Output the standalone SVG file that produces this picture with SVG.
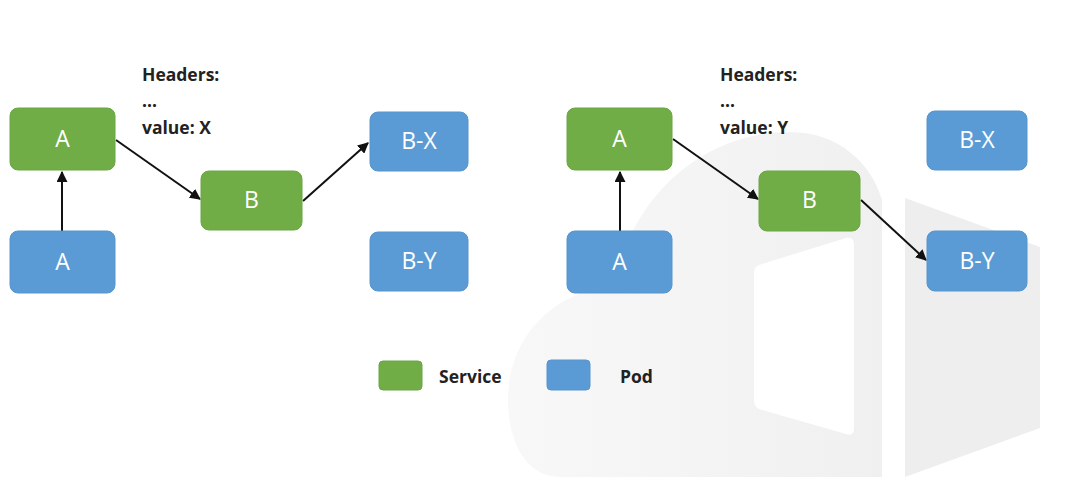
<svg xmlns="http://www.w3.org/2000/svg" width="1091" height="502" viewBox="0 0 1091 502">
<defs>
<linearGradient id="cg" x1="0" y1="0" x2="1" y2="0">
<stop offset="0" stop-color="#f8f8f8"/>
<stop offset="1" stop-color="#f0f0f0"/>
</linearGradient>
<marker id="ah" viewBox="0 0 10 10" refX="9" refY="5" markerWidth="5.5" markerHeight="5.5" orient="auto" markerUnits="strokeWidth">
<path d="M0,0 L10,5 L0,10 Z" fill="#111"/>
</marker>
</defs>
<style>
.svc{fill:#70ad47;stroke:#6aa542;stroke-width:1}
.pod{fill:#5b9bd5;stroke:#5694cc;stroke-width:1}
.lbl{font-family:"Open Sans","Noto Sans",sans-serif;font-size:23px;fill:#fff;text-anchor:middle}
.hdr{font-family:"Open Sans","Noto Sans",sans-serif;font-size:17.5px;font-weight:bold;fill:#222}
.edge{stroke:#111;stroke-width:2;fill:none;marker-end:url(#ah)}
</style>
<rect width="1091" height="502" fill="#fff"/>
<g id="watermark">
<path d="M560 477 C525 477 508 440 508 400 C508 340 550 292 615 285 C630 200 700 132 790 132 C840 132 872 165 882 200 L882 477 Z" fill="url(#cg)"/>
<path d="M762 264 L846 238 Q854 236 854 245 L854 428 Q854 437 846 434 L762 410 Q754 408 754 400 L754 272 Q754 266 762 264 Z" fill="#fff"/>
<path d="M905 198 L1040 247 L1040 428 L905 477 Z" fill="#eeeeee"/>
</g>
<g id="headers-left">
<text class="hdr" x="142" y="81">Headers:</text>
<text class="hdr" x="142" y="107">...</text>
<text class="hdr" x="142" y="134">value: X</text>
</g>
<g id="headers-right">
<text class="hdr" x="720" y="81">Headers:</text>
<text class="hdr" x="720" y="107">...</text>
<text class="hdr" x="720" y="134">value: Y</text>
</g>
<g id="connectors">
<line class="edge" x1="62" y1="231" x2="62" y2="172"/>
<line class="edge" x1="116" y1="140" x2="200" y2="199"/>
<line class="edge" x1="303" y1="201" x2="368" y2="143"/>
<line class="edge" x1="620" y1="231" x2="620" y2="172"/>
<line class="edge" x1="673" y1="139" x2="758" y2="199"/>
<line class="edge" x1="861" y1="200" x2="926" y2="260"/>
</g>
<g id="left-svc-A"><rect class="svc" x="10" y="108" width="105" height="62" rx="8"/><text class="lbl" x="62.5" y="147">A</text></g>
<g id="left-pod-A"><rect class="pod" x="10" y="231" width="105" height="62" rx="8"/><text class="lbl" x="62.5" y="270">A</text></g>
<g id="left-svc-B"><rect class="svc" x="201" y="171" width="101" height="59" rx="8"/><text class="lbl" x="251.5" y="208">B</text></g>
<g id="left-pod-BX"><rect class="pod" x="370" y="112" width="98" height="59" rx="8"/><text class="lbl" x="419" y="149">B-X</text></g>
<g id="left-pod-BY"><rect class="pod" x="370" y="232" width="98" height="59" rx="8"/><text class="lbl" x="419" y="269">B-Y</text></g>
<g id="right-svc-A"><rect class="svc" x="567" y="108" width="105" height="62" rx="8"/><text class="lbl" x="619.5" y="147">A</text></g>
<g id="right-pod-A"><rect class="pod" x="567" y="231" width="105" height="62" rx="8"/><text class="lbl" x="619.5" y="270">A</text></g>
<g id="right-svc-B"><rect class="svc" x="759" y="171" width="101" height="60" rx="8"/><text class="lbl" x="809.5" y="208">B</text></g>
<g id="right-pod-BX"><rect class="pod" x="927" y="111" width="100" height="59" rx="8"/><text class="lbl" x="977" y="148">B-X</text></g>
<g id="right-pod-BY"><rect class="pod" x="927" y="231" width="100" height="60" rx="8"/><text class="lbl" x="977" y="269">B-Y</text></g>
<g id="legend-service"><rect class="svc" x="379" y="361" width="43" height="29" rx="4"/><text class="hdr" x="439" y="383">Service</text></g>
<g id="legend-pod"><rect class="pod" x="547" y="360" width="43" height="30" rx="4"/><text class="hdr" x="620" y="383">Pod</text></g>
</svg>
